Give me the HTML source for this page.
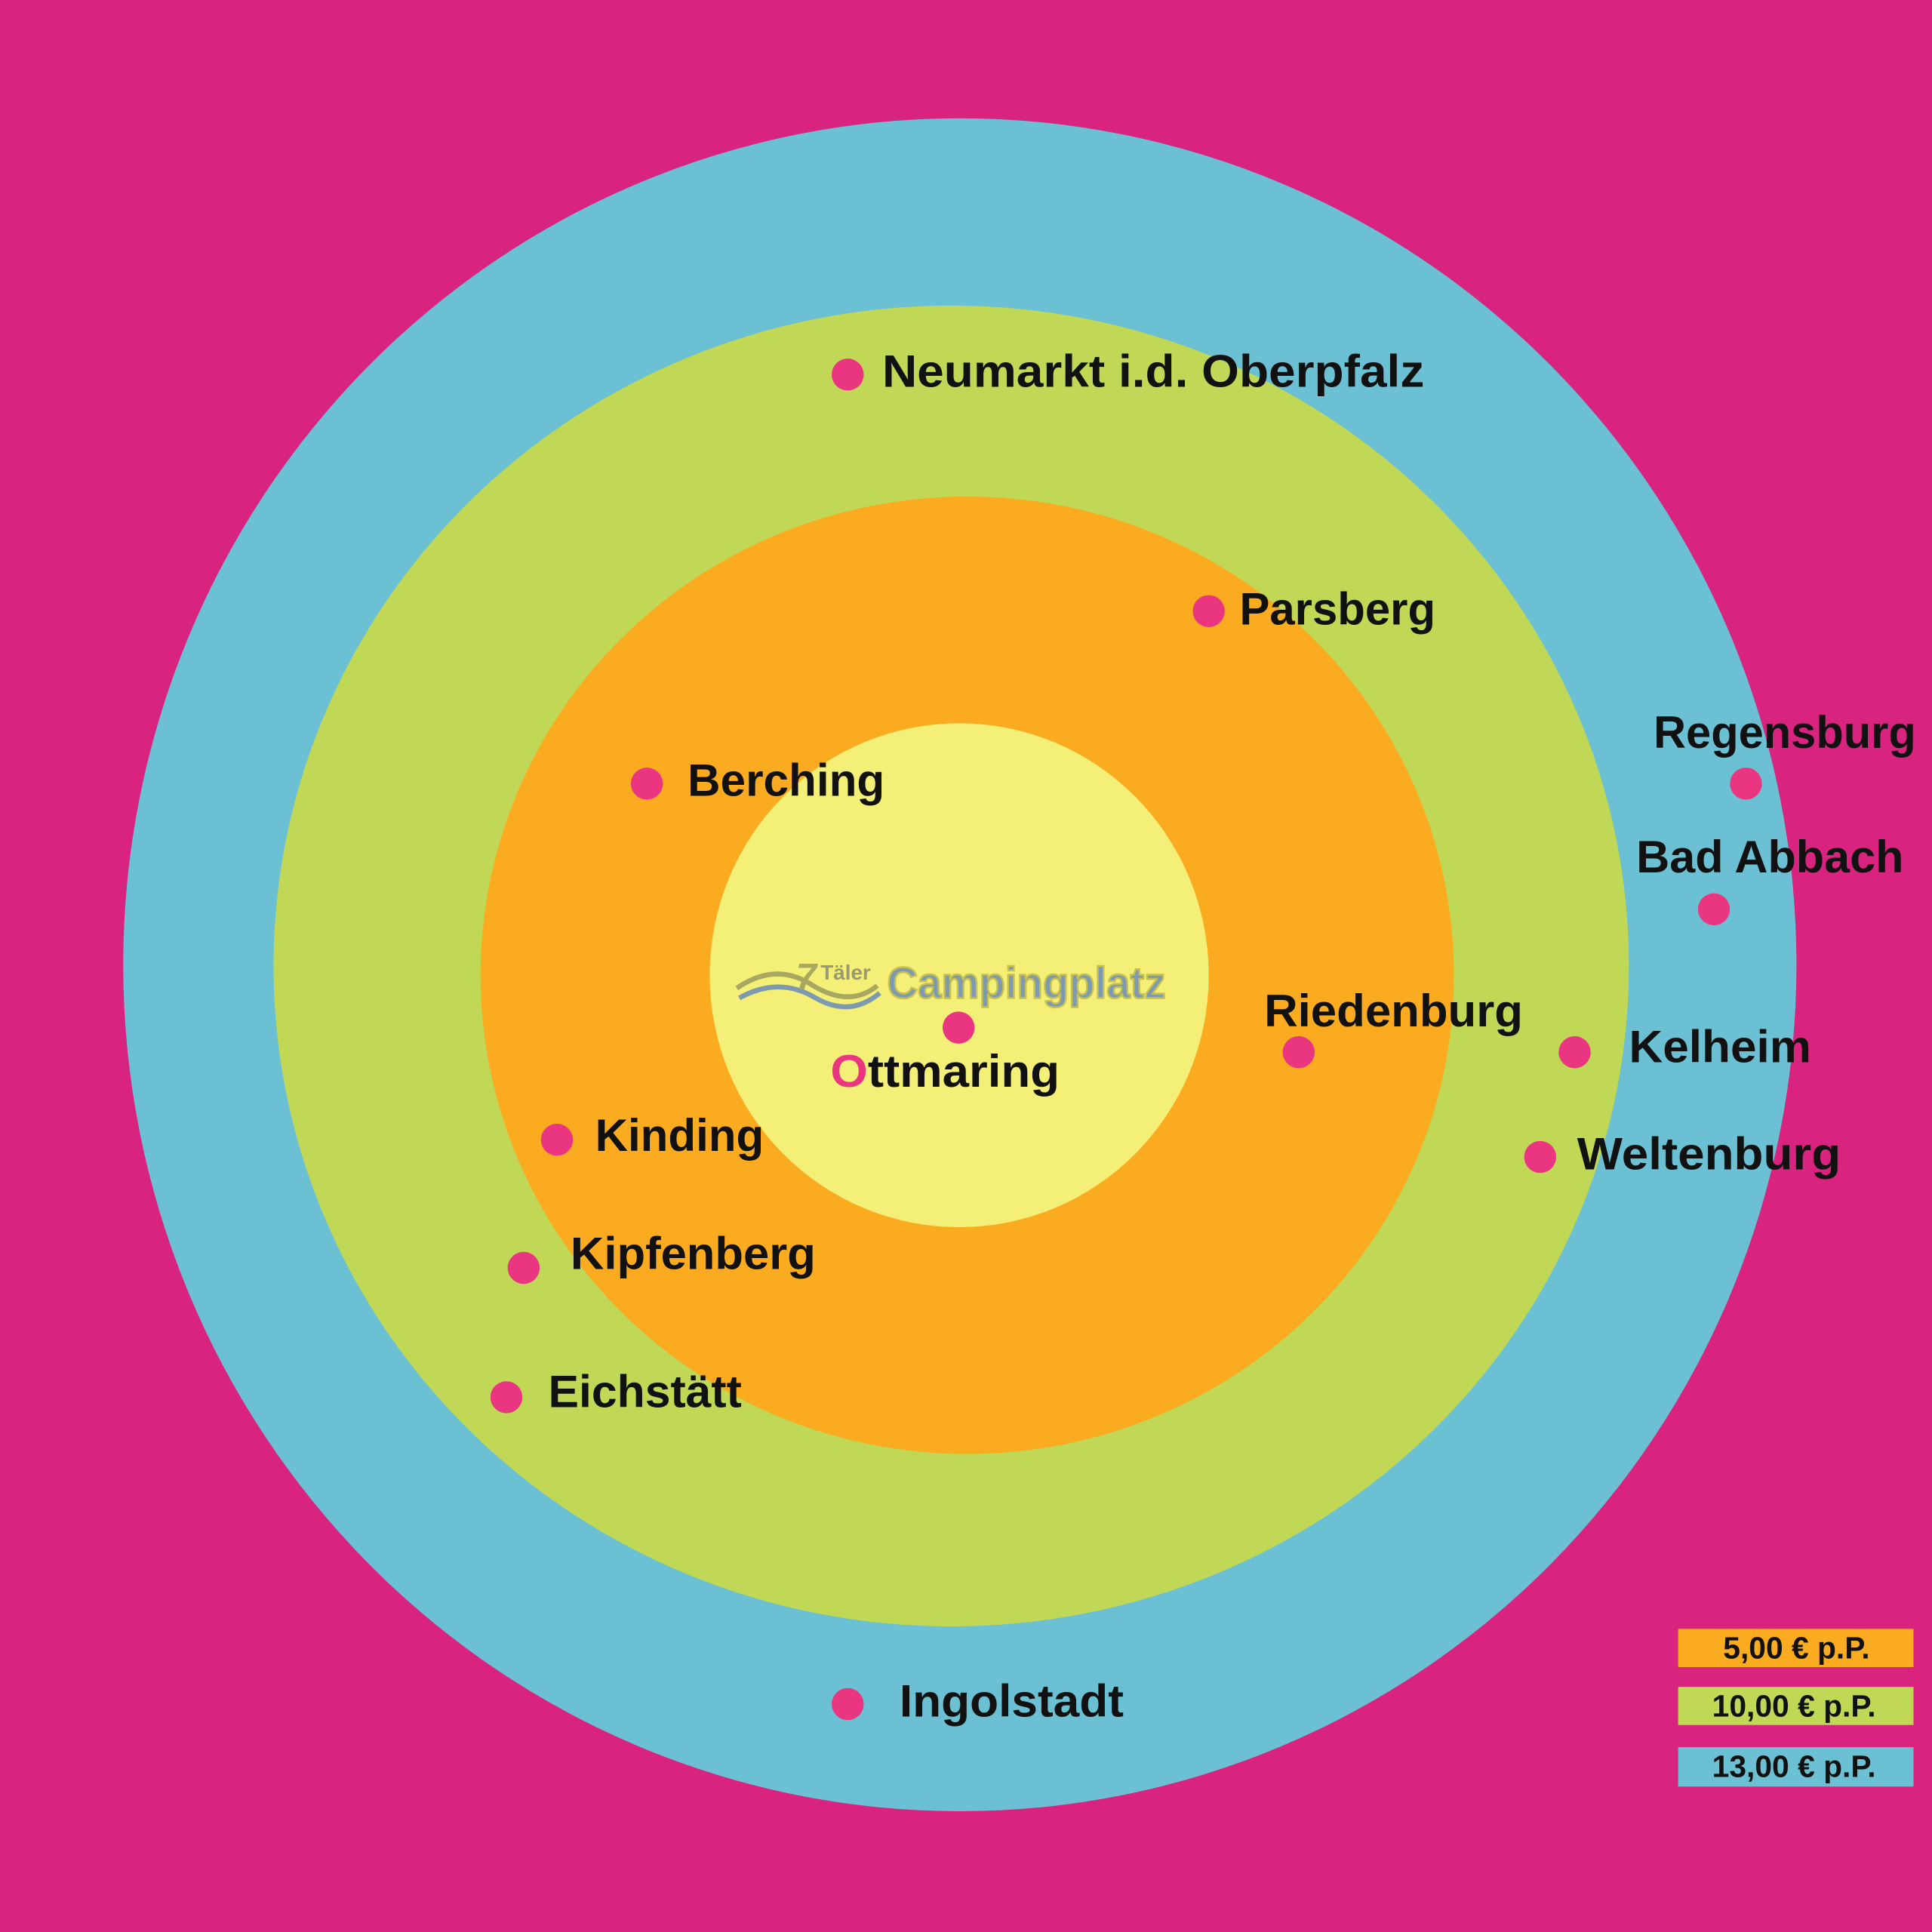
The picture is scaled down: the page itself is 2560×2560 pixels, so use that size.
<!DOCTYPE html>
<html><head><meta charset="utf-8"><style>
html,body{margin:0;padding:0;background:#d9247f;}
svg{display:block;}
text{font-family:"Liberation Sans",sans-serif;font-weight:bold;}
</style></head><body>
<svg width="2560" height="2560" viewBox="0 0 1568 1568" xmlns="http://www.w3.org/2000/svg">
<rect width="1568" height="1568" fill="#d9247f"/>
<ellipse cx="779" cy="783" rx="679" ry="687" fill="#6bc1d3"/>
<ellipse cx="772" cy="784" rx="550" ry="536" fill="#c0d855"/>
<ellipse cx="785" cy="791.5" rx="395" ry="388.5" fill="#fbab20"/>
<ellipse cx="778.5" cy="791.5" rx="202.5" ry="204.5" fill="#f3ef77"/>
<g fill="#ea3580">
<circle cx="688" cy="304" r="13"/>
<circle cx="981" cy="496" r="13"/>
<circle cx="1417" cy="636" r="13"/>
<circle cx="1391" cy="738" r="13"/>
<circle cx="525" cy="636" r="13"/>
<circle cx="1054" cy="854" r="13"/>
<circle cx="1278" cy="854" r="13"/>
<circle cx="1250" cy="939" r="13"/>
<circle cx="778" cy="834" r="13"/>
<circle cx="452" cy="925" r="13"/>
<circle cx="425" cy="1029" r="13"/>
<circle cx="411" cy="1134" r="13"/>
<circle cx="688" cy="1383" r="13"/>
</g>
<g fill="#111" font-size="37">
<text x="716" y="314" textLength="440" lengthAdjust="spacingAndGlyphs">Neumarkt i.d. Oberpfalz</text>
<text x="1006" y="507" textLength="159" lengthAdjust="spacingAndGlyphs">Parsberg</text>
<text x="1342" y="607" textLength="213" lengthAdjust="spacingAndGlyphs">Regensburg</text>
<text x="1328" y="708" textLength="217" lengthAdjust="spacingAndGlyphs">Bad Abbach</text>
<text x="558" y="646" textLength="160" lengthAdjust="spacingAndGlyphs">Berching</text>
<text x="1026" y="833" textLength="210" lengthAdjust="spacingAndGlyphs">Riedenburg</text>
<text x="1322" y="862" textLength="148" lengthAdjust="spacingAndGlyphs">Kelheim</text>
<text x="1280" y="949" textLength="214" lengthAdjust="spacingAndGlyphs">Weltenburg</text>
<text x="674" y="882" textLength="186" lengthAdjust="spacingAndGlyphs"><tspan fill="#ea3580">O</tspan>ttmaring</text>
<text x="483" y="934" textLength="137" lengthAdjust="spacingAndGlyphs">Kinding</text>
<text x="463" y="1030" textLength="199" lengthAdjust="spacingAndGlyphs">Kipfenberg</text>
<text x="445" y="1142" textLength="157" lengthAdjust="spacingAndGlyphs">Eichstätt</text>
<text x="730" y="1393" textLength="182" lengthAdjust="spacingAndGlyphs">Ingolstadt</text>
</g>
<g>
<path d="M598 802 Q630 780 660 800 Q690 818 712 800" stroke="#a9a860" stroke-width="4" fill="none"/>
<path d="M600 810 Q632 792 662 810 Q690 826 714 806" stroke="#7d9ab0" stroke-width="4" fill="none"/>
<text x="646" y="803" font-size="30" fill="#a9a860" font-style="italic">7</text>
<text x="666" y="795" font-size="17" fill="#9a9a70" font-weight="normal">Täler</text>
<text x="720" y="810" font-size="36" fill="#7d9ab0" stroke="#c8c050" stroke-width="1.5" textLength="226" lengthAdjust="spacingAndGlyphs">Campingplatz</text>
</g>
<rect x="1362" y="1322" width="191" height="31" fill="#fbab20"/>
<rect x="1362" y="1369" width="191" height="31" fill="#c0d855"/>
<rect x="1362" y="1418" width="191" height="32" fill="#6bc1d3"/>
<g fill="#111" font-size="25" text-anchor="middle">
<text x="1458" y="1346">5,00 € p.P.</text>
<text x="1456" y="1393">10,00 € p.P.</text>
<text x="1456" y="1442">13,00 € p.P.</text>
</g>
</svg>
</body></html>
